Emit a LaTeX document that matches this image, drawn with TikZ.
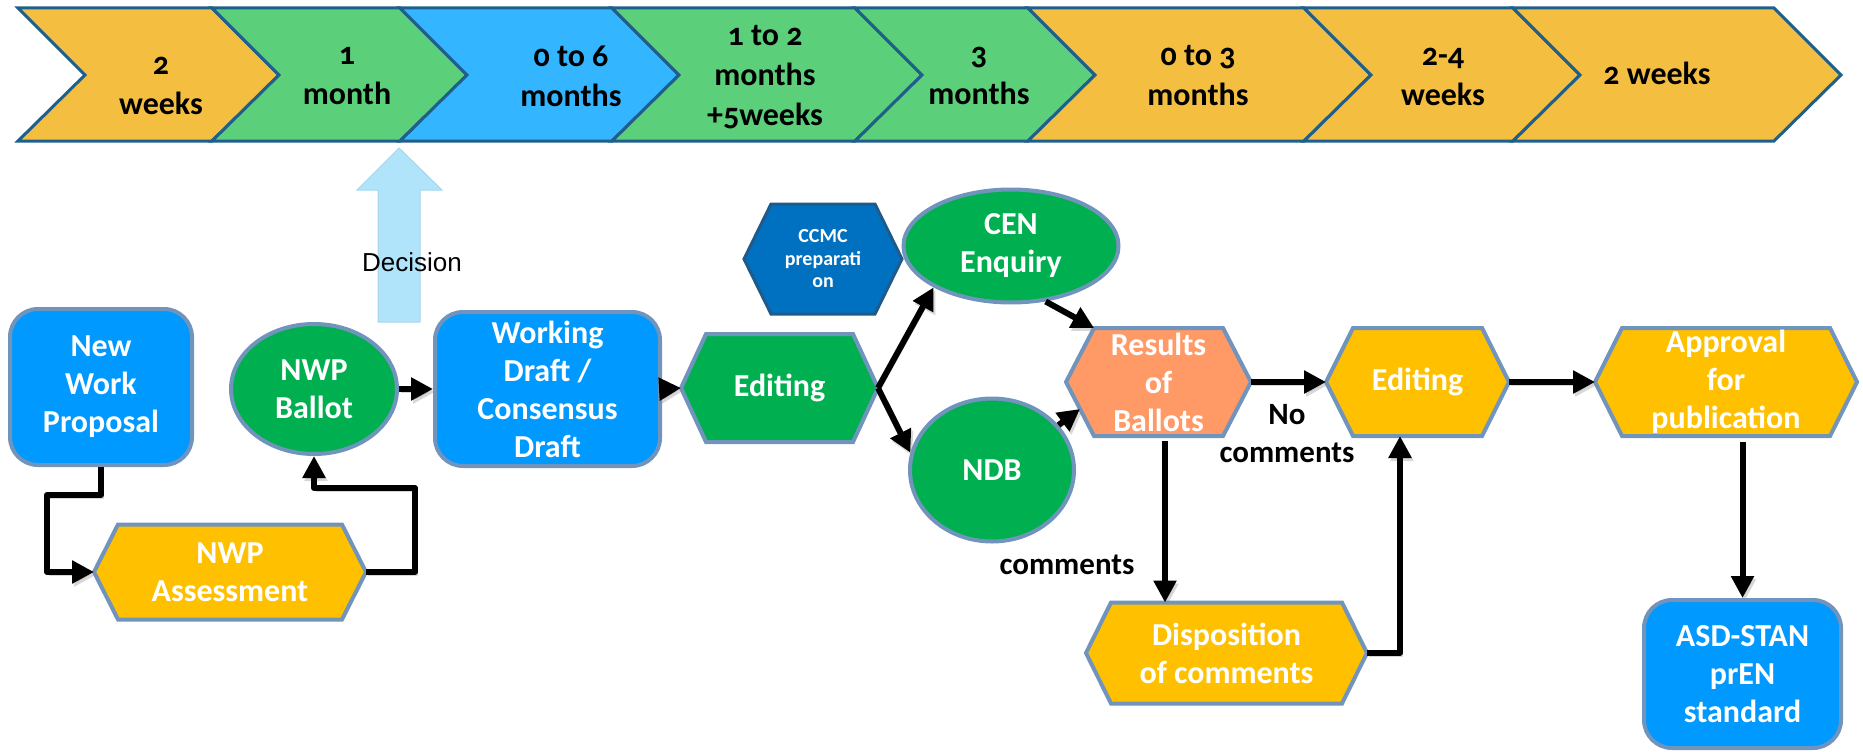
\documentclass[tikz,border=0pt]{standalone}
\usepackage{fontspec}
\setmainfont{Carlito}
\newfontfamily\decfont{Liberation Sans}
\newfontfamily\chevfont[Numbers=OldStyle]{Carlito}
\usetikzlibrary{arrows.meta,calc,shapes.geometric}

\definecolor{cyel}{HTML}{F4BE41}
\definecolor{cgrn}{HTML}{5BCF7A}
\definecolor{cblu}{HTML}{33B5FF}
\definecolor{cedge}{HTML}{1F5F8B}
\definecolor{sblue}{HTML}{0099FF}
\definecolor{sgreen}{HTML}{00B050}
\definecolor{syellow}{HTML}{FFC000}
\definecolor{ssalmon}{HTML}{FF9966}
\definecolor{sdark}{HTML}{0070C0}
\definecolor{sdarkedge}{HTML}{1F5A8A}
\definecolor{sedge}{HTML}{7094BC}
\definecolor{decfill}{HTML}{B0E4FB}

\tikzset{
  boxtext/.style={text=white, font=\fontsize{32}{38}\selectfont\bfseries, align=center, inner sep=0pt},
  smalltext/.style={text=white, font=\fontsize{20}{22.5}\selectfont\bfseries, align=center, inner sep=0pt},
  labeltext/.style={text=black, font=\fontsize{31}{38}\selectfont\bfseries, align=center, inner sep=0pt},
  chevtext/.style={text=black, font=\chevfont\fontsize{32}{40}\selectfont\bfseries, align=center, inner sep=0pt},
  chevshape/.style={draw=cedge, line width=3pt, line join=miter},
  rbox/.style={rectangle, draw=sedge, line width=4pt, fill=sblue, rounded corners=28pt, inner sep=0pt,
    text=white, font=\fontsize{32}{38}\selectfont\bfseries, align=center},
  oval/.style={ellipse, draw=sedge, line width=4pt, fill=sgreen, inner sep=0pt,
    text=white, font=\fontsize{32}{38}\selectfont\bfseries, align=center},
  hexframe/.style={rectangle, inner sep=0pt, outer sep=0pt, draw=none},
  hexline/.style={draw=sedge, line width=4pt, line join=miter},
  conn/.style={line width=6pt, line join=round, -{Triangle[length=22pt,width=22pt]},
    preaction={draw=black!45, opacity=0.35, transform canvas={shift={(2pt,-3pt)}}}},
}

\newcommand\hexagonnode[7]{%
  \node[hexframe, minimum width=#3, minimum height=#4] (#1) at #2 {};
  \draw[hexline, fill=#6] (#1.west) -- ([xshift=#5]#1.north west) -- ([xshift=-#5]#1.north east)
    -- (#1.east) -- ([xshift=-#5]#1.south east) -- ([xshift=#5]#1.south west) -- cycle;
  \node[boxtext] at (#1.center) {#7};
}

\begin{document}
\begin{tikzpicture}[x=1pt,y=-1pt]
\useasboundingbox (0,0) rectangle (1863,752);

% timeline chevrons
\foreach \l/\r/\c in {18/212/cyel, 212/400/cgrn, 400/612/cblu, 612/855/cgrn, 855/1028/cgrn, 1028/1304/cyel, 1304/1513/cyel, 1513/1774/cyel}
  \draw[chevshape, fill=\c] (\l,8) -- (\r,8) -- (\r+67,75) -- (\r,141) -- (\l,141) -- (\l+67,75) -- cycle;

\node[chevtext] (t1) at (161,86) {2\\weeks};
\node[chevtext] (t2) at (347,76) {1\\month};
\node[chevtext] (t3) at (571,76) {0 to 6\\months};
\node[chevtext] (t4) at (765,77) {1 to 2\\months\\+5weeks};
\node[chevtext] (t5) at (979,76) {3\\months};
\node[chevtext] (t6) at (1198,76) {0 to 3\\months};
\node[chevtext] (t7) at (1443,77) {2-4\\weeks};
\node[chevtext] (t8) at (1657,73) {2 weeks};

% decision arrow
\fill[decfill, draw=decfill!85!gray, line width=1pt] (378,322) -- (378,190) -- (357,190) -- (399,148)
  -- (442,190) -- (420,190) -- (420,322) -- cycle;
\node[font=\decfont\fontsize{26}{30}\selectfont, inner sep=0pt] (dec) at (412,262) {Decision};

% nodes
\node[rbox, minimum width=182pt, minimum height=156pt] (nwp) at (101,387) {New\\Work\\Proposal};
\node[oval, minimum width=166pt, minimum height=130pt] (ballot) at (314,389) {NWP\\Ballot};
\node[rbox, minimum width=225pt, minimum height=154pt] (wd) at (547.5,389) {Working\\Draft /\\Consensus\\Draft};
\hexagonnode{assess}{(230,572)}{272pt}{95pt}{24pt}{syellow}{NWP\\Assessment}
\hexagonnode{edit1}{(779.5,388)}{197pt}{108pt}{25pt}{sgreen}{Editing}

\node[hexframe, minimum width=158pt, minimum height=110pt] (ccmc) at (823,259) {};
\draw[draw=sdarkedge, line width=3pt, fill=sdark] (ccmc.west) -- ([xshift=27pt]ccmc.north west)
  -- ([xshift=-27pt]ccmc.north east) -- (ccmc.east) -- ([xshift=-27pt]ccmc.south east)
  -- ([xshift=27pt]ccmc.south west) -- cycle;
\node[smalltext] at (ccmc.center) {CCMC\\preparati\\on};

\node[oval, minimum width=215pt, minimum height=113pt] (cen) at (1011,246) {CEN\\Enquiry};
\node[oval, minimum width=164pt, minimum height=143pt] (ndb) at (992,470) {NDB};
\hexagonnode{results}{(1158.5,382)}{185pt}{108pt}{28pt}{ssalmon}{Results\\of\\Ballots}
\hexagonnode{edit2}{(1417.5,382)}{183pt}{108pt}{27pt}{syellow}{Editing}
\hexagonnode{approval}{(1726,382)}{262pt}{108pt}{27pt}{syellow}{Approval\\for\\publication}
\hexagonnode{disp}{(1226.5,653)}{281pt}{101pt}{25pt}{syellow}{Disposition\\of comments}
\node[rbox, minimum width=197pt, minimum height=148pt] (asd) at (1742.5,674) {ASD-STAN\\prEN\\standard};

% labels
\node[labeltext] (nocom) at (1287,434) {No\\comments};
\node[labeltext] (com) at (1067,565) {comments};

% helper coordinates
\coordinate (k2) at (47,495);
\coordinate (k1) at (415,488);
\coordinate (rsx) at (1165,0);
\coordinate (ex) at (1400,0);

% connectors
\draw[conn] (nwp.south) |- (k2) |- (assess.west);
\draw[conn] (assess.east) -| (k1) -| (ballot.south);
\draw[conn] (ballot.east) -- (wd.west);
\draw[conn] (wd.east) -- (edit1.west);
\draw[conn] (edit1.east) -- (cen.south west);
\draw[conn] (edit1.east) -- (ndb.168);
\draw[conn] (cen.-58) -- ([xshift=28pt]results.north west);
\draw[conn] (ndb.34) -- ($(results.west)!0.5!([xshift=28pt]results.south west)$);
\draw[conn] (results.east) -- (edit2.west);
\draw[conn, shorten <=5pt] (results.south -| rsx) -- (disp.north -| rsx);
\draw[conn] (disp.east) -| (edit2.south -| ex);
\draw[conn] (edit2.east) -- (approval.west);
\draw[conn, shorten <=6pt] (approval.south -| asd.north) -- (asd.north);
\end{tikzpicture}
\end{document}
